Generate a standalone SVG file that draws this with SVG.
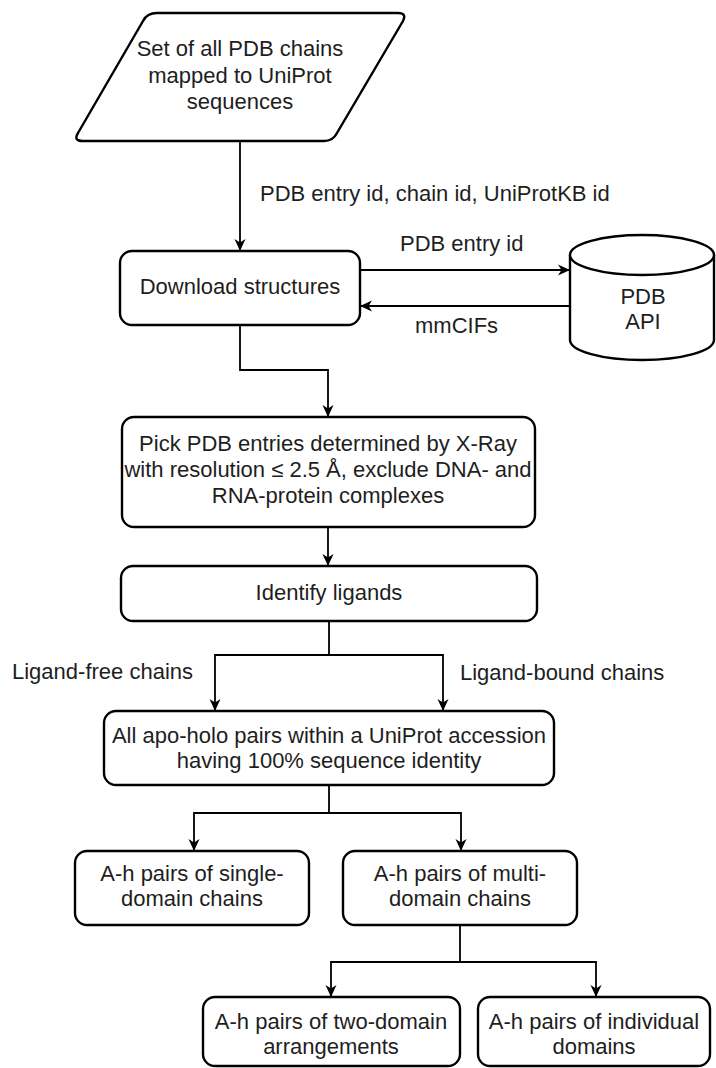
<svg xmlns="http://www.w3.org/2000/svg" width="716" height="1068" viewBox="0 0 716 1068">
  <style>
    .node { fill: #ffffff; stroke: #000000; stroke-width: 2.4; }
    .edge { fill: none; stroke: #000000; stroke-width: 1.8; }
    .t { font-family: "Liberation Sans", Arial, sans-serif; font-size: 22px; fill: #1e1e1e; text-anchor: middle; dominant-baseline: central; }
    .lbl { font-family: "Liberation Sans", Arial, sans-serif; font-size: 22px; fill: #1e1e1e; dominant-baseline: central; }
  </style>
  <defs>
    <marker id="arrow" viewBox="0 0 12 12" refX="11" refY="6" markerWidth="12" markerHeight="12" markerUnits="userSpaceOnUse" orient="auto">
      <path d="M0,0.5 L12,6 L0,11.5 L3.5,6 Z" fill="#000000"/>
    </marker>
  </defs>
  <rect width="716" height="1068" fill="#ffffff"/>

  <!-- connectors -->
  <g id="connectors">
    <path class="edge" d="M240,141 V250" marker-end="url(#arrow)"/>
    <path class="edge" d="M360,270 H569" marker-end="url(#arrow)"/>
    <path class="edge" d="M570,306 H361" marker-end="url(#arrow)"/>
    <path class="edge" d="M240,325 V370 H328 V416" marker-end="url(#arrow)"/>
    <path class="edge" d="M328,527 V565" marker-end="url(#arrow)"/>
    <path class="edge" d="M329,621 V655 H215 V710" marker-end="url(#arrow)"/>
    <path class="edge" d="M329,655 H443 V710" marker-end="url(#arrow)"/>
    <path class="edge" d="M329,785 V813 H194 V850" marker-end="url(#arrow)"/>
    <path class="edge" d="M329,813 H461 V850" marker-end="url(#arrow)"/>
    <path class="edge" d="M460,925 V962 H331 V996" marker-end="url(#arrow)"/>
    <path class="edge" d="M460,962 H596 V996" marker-end="url(#arrow)"/>
    <text class="lbl" x="260" y="193">PDB entry id, chain id, UniProtKB id</text>
    <text class="lbl" x="400" y="243">PDB entry id</text>
    <text class="lbl" x="415" y="325">mmCIFs</text>
    <text class="lbl" x="12" y="671">Ligand-free chains</text>
    <text class="lbl" x="460" y="672">Ligand-bound chains</text>
  </g>

  <!-- input data set -->
  <g id="input-chains">
    <path class="node" d="M157,13 H398 Q407,13 403,21 L337,133 Q333,141 324,141 H83 Q73,141 78,133 L143,21 Q147,13 157,13 Z"/>
    <text class="t" x="240" y="48">Set of all PDB chains</text>
    <text class="t" x="240" y="75">mapped to UniProt</text>
    <text class="t" x="240" y="101">sequences</text>
  </g>

  <g id="download">
    <rect class="node" x="120" y="251" width="240" height="74" rx="12"/>
    <text class="t" x="240" y="286">Download structures</text>
  </g>

  <g id="pdb-api">
    <path class="node" d="M570,255 V340 A72,20 0 0 0 714,340 V255"/>
    <ellipse class="node" cx="642" cy="255" rx="72" ry="20"/>
    <text class="t" x="643" y="296">PDB</text>
    <text class="t" x="643" y="321">API</text>
  </g>

  <g id="filter">
    <rect class="node" x="122" y="417" width="413" height="110" rx="12"/>
    <text class="t" x="328" y="443">Pick PDB entries determined by X-Ray</text>
    <text class="t" x="328" y="469">with resolution ≤ 2.5 Å, exclude DNA- and</text>
    <text class="t" x="328" y="495">RNA-protein complexes</text>
  </g>

  <g id="ligands">
    <rect class="node" x="121" y="566" width="416" height="55" rx="12"/>
    <text class="t" x="329" y="592">Identify ligands</text>
  </g>

  <g id="apo-holo">
    <rect class="node" x="104" y="711" width="450" height="74" rx="12"/>
    <text class="t" x="329" y="735">All apo-holo pairs within a UniProt accession</text>
    <text class="t" x="329" y="760">having 100% sequence identity</text>
  </g>

  <g id="single-domain">
    <rect class="node" x="75" y="851" width="234" height="74" rx="12"/>
    <text class="t" x="192" y="873">A-h pairs of single-</text>
    <text class="t" x="192" y="898">domain chains</text>
  </g>

  <g id="multi-domain">
    <rect class="node" x="343" y="851" width="234" height="74" rx="12"/>
    <text class="t" x="460" y="873">A-h pairs of multi-</text>
    <text class="t" x="460" y="898">domain chains</text>
  </g>

  <g id="two-domain">
    <rect class="node" x="203" y="997" width="257" height="69" rx="12"/>
    <text class="t" x="331" y="1021">A-h pairs of two-domain</text>
    <text class="t" x="331" y="1046">arrangements</text>
  </g>

  <g id="individual-domains">
    <rect class="node" x="478" y="997" width="232" height="69" rx="12"/>
    <text class="t" x="594" y="1021">A-h pairs of individual</text>
    <text class="t" x="594" y="1046">domains</text>
  </g>
</svg>
